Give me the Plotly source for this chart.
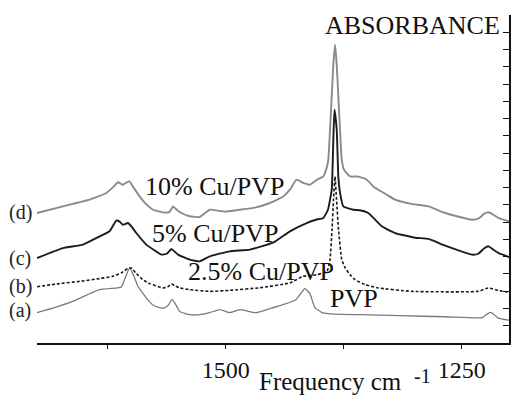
import plotly.graph_objects as go

# ---- data (wavenumber cm-1, absorbance in arbitrary stacked units) ----
wn_a = [1700, 1681.5, 1662.4, 1633.7, 1614.6, 1610.4, 1606.1, 1601.9, 1597.6, 1593.4, 1589.1, 1582.8,
        1577.5, 1570.0, 1564.7, 1560.5, 1557.0, 1554.1, 1548.8, 1538.2, 1527.6, 1517.0, 1506.4, 1495.8,
        1485.1, 1468.2, 1453.3, 1439.5, 1425.7, 1421.5, 1416.2, 1410.9, 1405.6, 1398.1, 1384.3, 1357.8,
        1315.3, 1267.6, 1228.3, 1224.1, 1219.8, 1215.6, 1211.4, 1199.7]
abs_a = [1.76, 2.05, 2.41, 3.09, 3.19, 3.26, 3.84, 4.35, 3.90, 3.32, 2.97, 2.51,
         2.22, 2.05, 2.03, 2.22, 2.51, 2.33, 1.83, 1.64, 1.64, 1.76, 1.93, 1.76,
         1.93, 1.76, 1.99, 2.22, 2.51, 2.80, 3.15, 2.86, 2.05, 1.76, 1.67, 1.64,
         1.58, 1.52, 1.47, 1.64, 1.77, 1.64, 1.44, 1.32]

wn_b = [1700, 1676.2, 1654.9, 1633.7, 1619.9, 1610.4, 1604.0, 1600.1, 1595.5, 1588.1, 1580.7, 1566.9,
        1561.5, 1557.6, 1554.1, 1548.8, 1538.2, 1517.0, 1495.8, 1463.9, 1432.1, 1418.3, 1403.4, 1392.8,
        1389.6, 1387.5, 1385.9, 1384.3, 1382.7, 1380.6, 1377.2, 1373.7, 1368.4, 1363.1, 1352.5, 1338.7,
        1302.9, 1232.6, 1221.9, 1211.4, 1199.7]
abs_b = [3.26, 3.44, 3.57, 3.73, 3.86, 4.07, 4.30, 4.35, 4.07, 3.67, 3.44, 3.19,
         3.26, 3.42, 3.32, 3.19, 3.09, 2.99, 3.05, 3.20, 3.48, 3.86, 3.96, 4.15,
         4.83, 6.56, 8.30, 9.64, 8.30, 6.56, 4.83, 4.36, 3.96, 3.67, 3.38, 3.19,
         2.99, 2.99, 3.19, 3.05, 2.93]

wn_c = [1700, 1672.7, 1651.4, 1633.7, 1623.1, 1616.0, 1612.5, 1609.0, 1603.7, 1599.8, 1594.8, 1584.2,
        1568.2, 1562.6, 1557.6, 1554.1, 1550.6, 1538.2, 1527.6, 1517.0, 1495.8, 1474.5, 1450.1, 1432.1,
        1414.4, 1404.5, 1396.7, 1391.8, 1387.8, 1386.1, 1384.9, 1382.5, 1380.8, 1379.0, 1375.5, 1364.9,
        1357.8, 1349.0, 1334.8, 1320.7, 1299.4, 1285.3, 1267.6, 1239.3, 1232.6, 1226.2, 1221.6, 1216.7,
        1211.0, 1199.7]
abs_c = [4.92, 5.50, 5.70, 6.18, 6.47, 7.09, 7.03, 6.85, 6.95, 6.74, 6.37, 5.70,
         5.12, 5.17, 5.45, 5.29, 5.12, 4.83, 4.73, 5.02, 5.31, 5.41, 5.81, 6.47,
         6.95, 7.14, 7.24, 7.72, 8.88, 11.78, 13.52, 12.36, 9.65, 8.71, 7.91, 7.72,
         7.69, 7.53, 6.76, 6.37, 6.10, 6.03, 5.64, 5.12, 5.17, 5.49, 5.60, 5.41,
         5.21, 4.98]

wn_d = [1700, 1672.7, 1644.3, 1626.6, 1618.8, 1614.3, 1609.0, 1605.4, 1601.9, 1597.6, 1591.3, 1584.9,
        1577.1, 1564.7, 1559.4, 1555.9, 1552.0, 1547.0, 1538.2, 1527.6, 1517.0, 1501.1, 1485.1, 1469.2,
        1453.3, 1439.2, 1432.1, 1425.0, 1418.0, 1410.9, 1403.4, 1396.7, 1393.1, 1391.4, 1389.6, 1387.8,
        1386.1, 1384.3, 1382.5, 1380.8, 1379.0, 1377.2, 1374.8, 1368.4, 1359.6, 1350.7, 1343.7, 1338.4,
        1329.5, 1320.7, 1304.7, 1285.3, 1267.6, 1239.3, 1232.6, 1226.2, 1221.6, 1216.7, 1211.0, 1199.7]
abs_d = [7.53, 7.91, 8.30, 8.69, 9.06, 9.31, 9.17, 9.29, 9.36, 9.00, 8.49, 8.07,
         7.72, 7.55, 7.61, 7.91, 7.72, 7.53, 7.34, 7.30, 7.72, 7.61, 7.72, 7.84,
         8.11, 8.49, 8.88, 9.46, 9.27, 9.17, 9.46, 9.65, 10.16, 10.62, 12.36, 14.29,
         16.12, 17.28, 16.12, 14.29, 12.36, 10.62, 10.04, 9.65, 9.64, 9.46, 9.07, 8.88,
         8.59, 8.30, 8.07, 7.91, 7.53, 7.14, 7.20, 7.49, 7.57, 7.43, 7.24, 7.05]

x_tickvals = [1500, 1250]
x_ticktext = ["1500", "1250"]
x_minor_tickvals = [1625, 1375]

curve_labels = ["(a)", "(b)", "(c)", "(d)"]
curve_label_y = [1.87, 3.26, 4.88, 7.55]
sample_names = ["PVP", "2.5% Cu/PVP", "5% Cu/PVP", "10% Cu/PVP"]

SERIF = "Liberation Serif"

fig = go.Figure()
fig.add_trace(go.Scatter(x=wn_a, y=abs_a, mode="lines",
                         line=dict(color="#7a7a7a", width=1.3, shape="spline", smoothing=0.4)))
fig.add_trace(go.Scatter(x=wn_b, y=abs_b, mode="lines",
                         line=dict(color="#1a1a1a", width=1.6, dash="3px,2px", shape="spline", smoothing=0.4)))
fig.add_trace(go.Scatter(x=wn_c, y=abs_c, mode="lines",
                         line=dict(color="#1c1c1c", width=1.9, shape="spline", smoothing=0.4)))
fig.add_trace(go.Scatter(x=wn_d, y=abs_d, mode="lines",
                         line=dict(color="#8a8a8a", width=1.9, shape="spline", smoothing=0.4)))

annotations = []
# curve letters at the left
for lab, yv in zip(curve_labels, curve_label_y):
    annotations.append(dict(text=lab, xref="paper", yref="y", x=-0.036, y=yv,
                            xanchor="center", yanchor="middle", showarrow=False,
                            font=dict(family=SERIF, size=20, color="#222")))
# sample names
name_pos = [(1364.2, 2.57), (1463.2, 4.13), (1511.7, 6.33), (1511.7, 9.06)]
for name, (xv, yv) in zip(sample_names, name_pos):
    annotations.append(dict(text=name, xref="x", yref="y", x=xv, y=yv,
                            xanchor="center", yanchor="middle", showarrow=False,
                            font=dict(family=SERIF, size=26, color="#111")))
annotations.append(dict(text="ABSORBANCE", xref="paper", yref="paper", x=0.985, y=0.968,
                        xanchor="right", yanchor="middle", showarrow=False,
                        font=dict(family=SERIF, size=26, color="#111")))
# axis title: "Frequency cm" with raised "-1"
annotations.append(dict(text="Frequency cm", xref="paper", yref="paper",
                        x=0.466, y=-0.118, xanchor="left", yanchor="middle", showarrow=False,
                        font=dict(family=SERIF, size=25, color="#111")))
annotations.append(dict(text="-1", xref="paper", yref="paper",
                        x=0.817, y=-0.10, xanchor="center", yanchor="middle", showarrow=False,
                        font=dict(family=SERIF, size=20, color="#111")))

fig.update_layout(
    width=513, height=399,
    margin=dict(l=37, r=4, t=15, b=56),
    paper_bgcolor="white", plot_bgcolor="white",
    showlegend=False,
    annotations=annotations,
    xaxis=dict(range=[1700, 1200], showgrid=False, zeroline=False,
               showline=True, linecolor="#111", linewidth=1.5,
               ticks="outside", ticklen=4, tickwidth=1.3, tickcolor="#111",
               tickmode="array", tickvals=x_tickvals, ticktext=x_ticktext,
               tickfont=dict(family=SERIF, size=24, color="#111"),
               minor=dict(tickmode="array", tickvals=x_minor_tickvals, ticks="outside",
                          ticklen=4, tickwidth=1.3, tickcolor="#111", showgrid=False)),
    yaxis=dict(range=[0, 19], side="right", showgrid=False, zeroline=False,
               showline=True, linecolor="#111", linewidth=1.5,
               ticks="inside", ticklen=6, tickwidth=1.2, tickcolor="#111",
               dtick=1, tick0=0, showticklabels=False),
)

fig.write_html("out.html")
